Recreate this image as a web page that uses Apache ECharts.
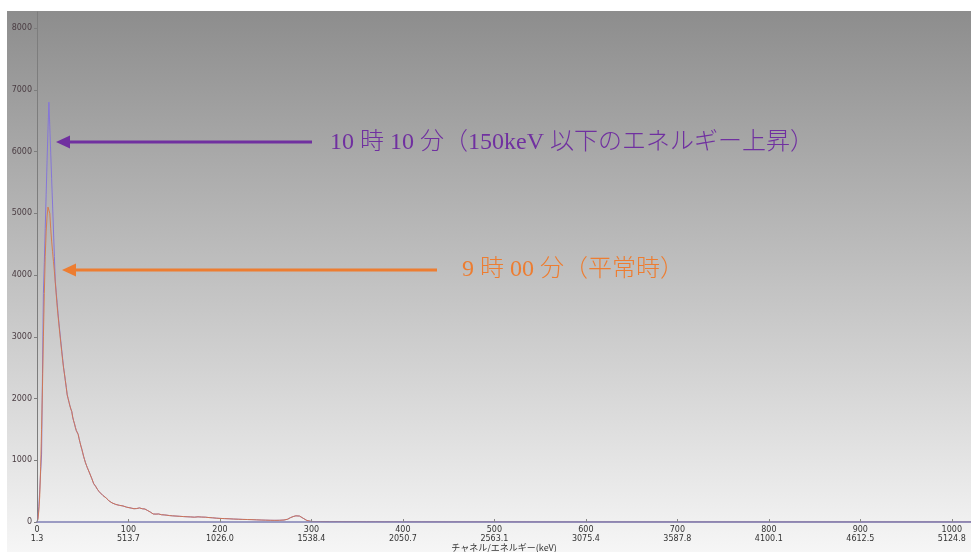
<!DOCTYPE html>
<html>
<head>
<meta charset="utf-8">
<script src="https://cdn.jsdelivr.net/npm/echarts@6/dist/echarts.min.js"></script>
<style>
  html, body { margin: 0; padding: 0; background: #ffffff; }
  #chart { width: 971px; height: 552px; }
</style>
</head>
<body>
<div id="chart"></div>
<script>
// Gamma spectrum: counts per channel, two acquisitions

// Peak region, channels 0..29 (one value per channel)
const peakChannels = [0,1,2,3,4,5,6,7,8,9,10,11,12,13,14,15,16,17,18,19,20,21,22,23,24,25,26,27,28,29];
const counts1010Peak = [0,60,250,520,820,1100,2400,3700,4200,4750,5300,5850,6350,6800,6400,5980,5560,5150,4730,4300,3900,3720,3550,3380,3220,3080,2930,2790,2650,2510];
const counts0900Peak = [0,40,180,420,900,1500,2200,3000,3700,4300,4700,4950,5100,5130,5000,4750,4550,4380,4220,4060,3880,3690,3500,3340,3190,3040,2900,2760,2620,2500];

// Above channel 30 both acquisitions coincide
const tailChannels = [30,31,32,33,34,35,36,37,38,39,40,41,42,43,44,45,46,47,48,49,50,51,52,53,54,55,56,57,58,
  60,62,64,66,68,70,72,74,76,78,80,82,84,86,88,90,92,94,96,98,100,
  103,106,109,112,115,118,121,124,127,130,133,136,139,142,145,148,152,156,160,164,168,172,176,180,184,188,192,196,200,
  205,210,215,220,225,230,235,240,245,250,255,260,265,270,274,277,280,283,285,287,289,291,293,295,297,300,
  305,310,320,330,340,350,360,370,380,390,400,420,450,500,550,600,700,800,900,1000,1021];
const tailCounts = [2400,2290,2180,2060,2000,1940,1880,1830,1790,1700,1640,1590,1530,1480,1450,1420,1350,1290,1230,1180,1120,1060,1010,960,920,880,850,810,790,
  700,620,580,530,490,460,430,400,385,350,330,310,300,285,275,270,255,260,245,240,232,
  225,215,218,228,215,210,185,160,130,128,130,118,115,110,104,100,96,92,88,85,82,78,84,80,78,72,68,62,58,
  55,52,48,45,42,40,38,35,32,30,28,27,28,32,45,70,88,100,104,96,82,60,40,25,14,9,
  7,8,6,7,5,6,4,5,3,4,2,2,1,2,0,0,0,0,0,0,0];

// Axis tick labels: channel number and calibrated energy (keV)
const channelTicks = [0,100,200,300,400,500,600,700,800,900,1000];
const energyTicks = ['1.3','513.7','1026.0','1538.4','2050.7','2563.1','3075.4','3587.8','4100.1','4612.5','5124.8'];

const label1010 = '10 時 10 分（150keV 以下のエネルギー上昇）';
const label0900 = '9 時 00 分（平常時）';

function toPairs(xs, ys) { return xs.map((x, i) => [x, ys[i]]); }
const series1010 = toPairs(peakChannels, counts1010Peak).concat(toPairs(tailChannels, tailCounts));
const series0900 = toPairs(peakChannels, counts0900Peak).concat(toPairs(tailChannels, tailCounts));

const purple = '#7030a0';
const orange = '#ed7d31';
const textFont = "'Liberation Serif', 'Noto Sans CJK JP', serif";

const chart = echarts.init(document.getElementById('chart'), null, { renderer: 'canvas' });

chart.setOption({
  animation: false,
  backgroundColor: '#ffffff',
  grid: { left: 37, right: 0, top: 12, bottom: 30, containLabel: false, outerBoundsMode: 'none' },
  xAxis: {
    type: 'value',
    min: 0, max: 1021, interval: 100,
    z: 3,
    name: 'チャネル/エネルギー(keV)',
    nameLocation: 'middle',
    nameGap: 21,
    nameMoveOverlap: false,
    nameTextStyle: { fontSize: 9, color: '#333333', fontFamily: "'Noto Sans CJK JP', 'DejaVu Sans', sans-serif" },
    axisLine: { lineStyle: { color: '#7f7fb4', width: 1.5 } },
    axisTick: { inside: true, length: 3, lineStyle: { color: '#888888' } },
    splitLine: { show: false },
    axisLabel: {
      margin: 3,
      fontSize: 8,
      lineHeight: 9,
      color: '#333333',
      fontFamily: "'DejaVu Sans', sans-serif",
      showMaxLabel: false,
      formatter: function (v) {
        const i = channelTicks.indexOf(v);
        return i < 0 ? '' : channelTicks[i] + '\n' + energyTicks[i];
      }
    }
  },
  yAxis: {
    type: 'value',
    min: 0, max: 8260, interval: 1000,
    axisLine: { show: true, lineStyle: { color: '#7d7d7d' } },
    axisTick: { show: true, length: 3, lineStyle: { color: '#7d7d7d' } },
    splitLine: { show: false },
    axisLabel: {
      margin: 5,
      fontSize: 8,
      color: '#4a3c42',
      fontFamily: "'DejaVu Sans', sans-serif",
      showMaxLabel: false,
      formatter: function (v) { return v % 1000 === 0 ? String(v) : ''; }
    }
  },
  series: [
    {
      name: label1010,
      type: 'line',
      data: series1010,
      showSymbol: false,
      lineStyle: { color: '#8576d8', width: 1 },
      z: 2
    },
    {
      name: label0900,
      type: 'line',
      data: series0900,
      showSymbol: false,
      lineStyle: { color: '#d8743e', width: 1, opacity: 0.85 },
      z: 2
    }
  ],
  graphic: {
    elements: [
      {
        type: 'rect', z: -100, silent: true,
        shape: { x: 7, y: 11, width: 964, height: 541 },
        style: {
          fill: new echarts.graphic.LinearGradient(0, 0, 0, 1, [
            { offset: 0, color: '#8d8d8d' },
            { offset: 1, color: '#f6f6f6' }
          ])
        }
      },
      // arrow + caption for the 10:10 spectrum
      { type: 'line', z: 100, shape: { x1: 68, y1: 142, x2: 312, y2: 142 }, style: { stroke: purple, lineWidth: 3 } },
      { type: 'polygon', z: 100, shape: { points: [[56, 142], [70, 135.5], [70, 148.5]] }, style: { fill: purple } },
      {
        type: 'text', z: 100,
        style: { text: label1010, x: 330, y: 143, fill: purple, fontSize: 24, fontWeight: 300, fontFamily: textFont, verticalAlign: 'middle' }
      },
      // arrow + caption for the 9:00 spectrum
      { type: 'line', z: 100, shape: { x1: 74, y1: 270, x2: 437, y2: 270 }, style: { stroke: orange, lineWidth: 3 } },
      { type: 'polygon', z: 100, shape: { points: [[62, 270], [76, 263.5], [76, 276.5]] }, style: { fill: orange } },
      {
        type: 'text', z: 100,
        style: { text: label0900, x: 462, y: 270, fill: orange, fontSize: 24, fontWeight: 300, fontFamily: textFont, verticalAlign: 'middle' }
      }
    ]
  }
});
</script>
</body>
</html>
